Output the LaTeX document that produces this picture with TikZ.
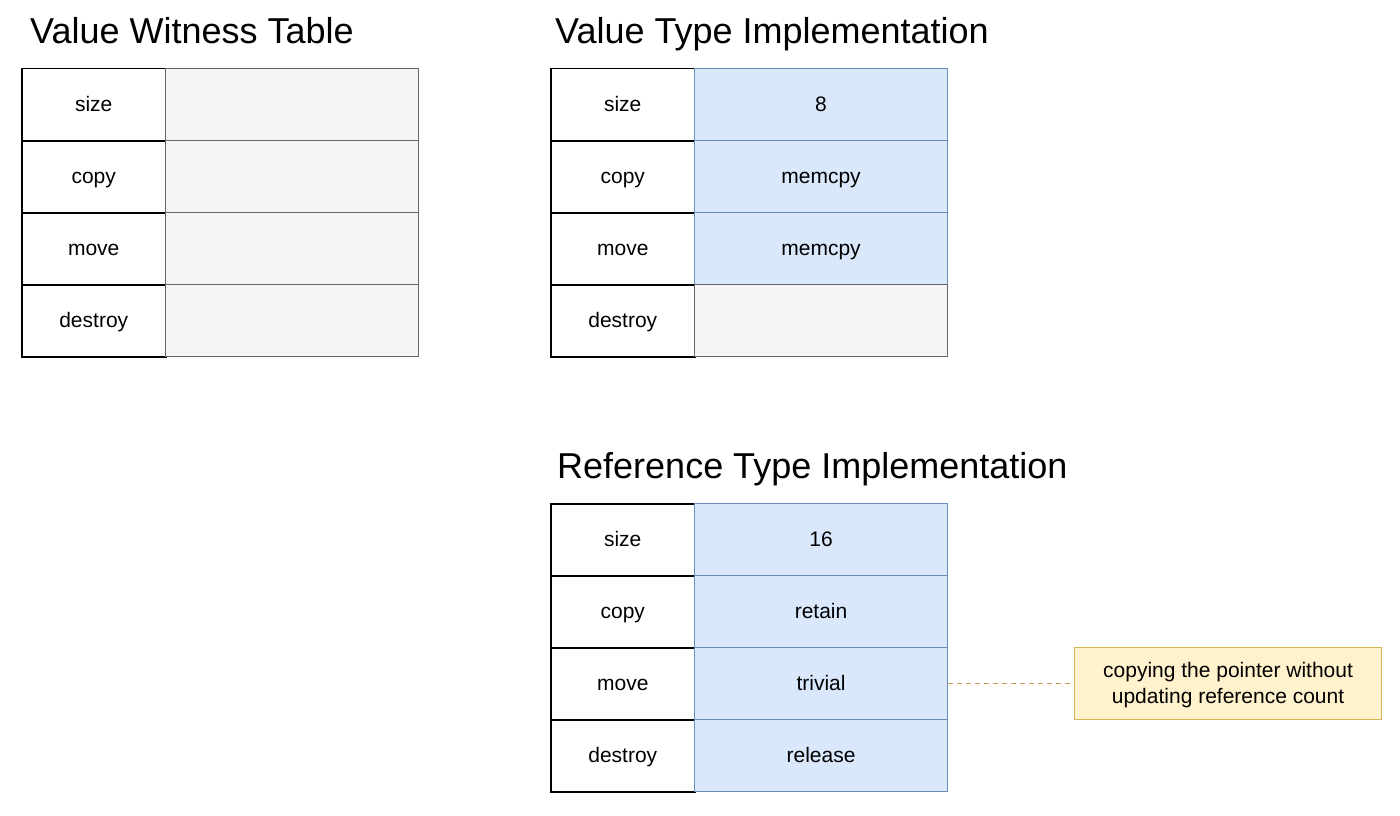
\documentclass[tikz,border=0pt]{standalone}
\usepackage{fontspec}
\setmainfont{Liberation Sans}
\usepackage{tikz}
\usetikzlibrary{positioning}
\definecolor{blueFill}{HTML}{DAE8FC}
\definecolor{blueLine}{HTML}{6C8EBF}
\definecolor{grayFill}{HTML}{F5F5F5}
\definecolor{grayLine}{HTML}{666666}
\definecolor{noteFill}{HTML}{FFF2CC}
\definecolor{noteLine}{HTML}{D6B656}
\tikzset{
  cell/.style={minimum height=72pt,inner sep=0pt,anchor=north west,text height=15pt,text depth=1pt,font=\fontsize{21}{25}\selectfont},
  keycell/.style={cell,draw=black,line width=1.5pt,fill=white,minimum width=144pt},
  valcell/.style={cell,minimum width=253pt,line width=1.1pt},
  bluecell/.style={valcell,draw=blueLine,fill=blueFill},
  graycell/.style={valcell,draw=grayLine,fill=grayFill},
  ttl/.style={inner sep=0pt,anchor=base west,font=\fontsize{36}{40}\selectfont},
}

\begin{document}
\begin{tikzpicture}[x=1pt,y=-1pt,
  note/.style={draw=noteLine,fill=noteFill,line width=1.1pt,minimum width=307pt,minimum height=72pt,inner sep=0pt,anchor=north west,align=center,font=\fontsize{21}{26}\selectfont},
  link/.style={draw=noteLine!90!black,line width=1.6pt,dash pattern=on 5pt off 4pt}]
 \useasboundingbox (0,0) rectangle (1400,816);
 % ---- value witness table
 \node[ttl] (vwt-title) at (30,44){Value Witness Table};
 \foreach \k [count=\i from 0] in {size,copy,move,destroy}{
   \node[keycell] (vwt-k\i) at (21,68+72*\i){\k};
   \node[graycell] (vwt-v\i) at (165,68+72*\i){};
 }
 % ---- value type implementation
 \node[ttl] (val-title) at (555,44){Value Type Implementation};
 \foreach \k/\v/\s [count=\i from 0] in {size/8/bluecell,copy/memcpy/bluecell,move/memcpy/bluecell,destroy//graycell}{
   \node[keycell] (val-k\i) at (550,68+72*\i){\k};
   \node[\s] (val-v\i) at (694,68+72*\i){\v};
 }
 % ---- reference type implementation
 \node[ttl] (ref-title) at (557,478){Reference Type Implementation};
 \foreach \k/\v [count=\i from 0] in {size/16,copy/retain,move/trivial,destroy/release}{
   \node[keycell] (ref-k\i) at (550,503+72*\i){\k};
   \node[bluecell] (ref-v\i) at (694,503+72*\i){\v};
 }
 % ---- note
 \node[note] (note) at (1074,647){\rule{0pt}{19pt}copying the pointer without\\updating reference count};
 \draw[link] (ref-v2.east)--(note.west);
\end{tikzpicture}
\end{document}
